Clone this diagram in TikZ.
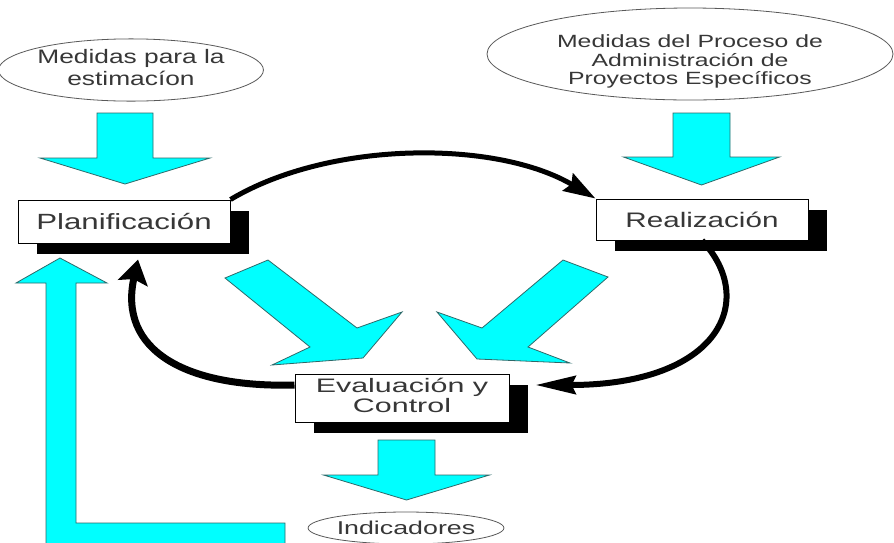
\documentclass[tikz,border=0pt]{standalone}
\usepackage{fontspec}
\setmainfont{Liberation Sans}
\usetikzlibrary{shapes.geometric,shadows,arrows.meta}
\definecolor{aqua}{RGB}{0,255,255}
\definecolor{aquaedge}{RGB}{45,105,105}
\definecolor{inkgray}{RGB}{55,55,55}
\tikzset{
  stagebox/.style={draw=black, fill=white, line width=1pt, inner sep=0pt,
    text=inkgray, general shadow={fill=black, shadow xshift=19pt, shadow yshift=-11pt}},
  measure/.style={ellipse, draw=black!65, line width=0.8pt, inner sep=0pt, text=inkgray},
  blockarrow/.style={fill=aqua, draw=aquaedge, line width=0.8pt, line join=miter},
  flow/.style={draw=black},
}
\newcommand{\widetxt}[2][1.4]{\scalebox{#1}[1]{#2}}
% cyan arrow pointing down: centre x, top y, half shaft, head base y, half head, tip y
\newcommand{\downblock}[6]{%
  \draw[blockarrow] (#1-#3,#2) -- (#1+#3,#2) -- (#1+#3,#4) -- (#1+#5,#4)
    -- (#1,#6) -- (#1-#5,#4) -- (#1-#3,#4) -- cycle;
}

\begin{document}
\begin{tikzpicture}[x=1pt, y=-1pt]
\useasboundingbox[fill=white] (0,0) rectangle (894,542);
\clip (0,0) rectangle (894,542);

% measures feeding the stages
\node[measure, minimum width=242pt, minimum height=53pt,
  font=\fontsize{19.5}{22}\selectfont] (estim) at (131,70)
  {\widetxt[1.35]{\begin{tabular}{@{}c@{}}Medidas para la\\estimacíon\end{tabular}}};
\node[measure, minimum width=406pt, minimum height=92pt,
  font=\fontsize{17.7}{18.5}\selectfont] (admin) at (690,54)
  {\raisebox{-13pt}[0pt][0pt]{\widetxt{\begin{tabular}{@{}c@{}}Medidas del Proceso de\\Administración de\\Proyectos Específicos\end{tabular}}}};

\downblock{125}{113}{28}{158}{85}{184}
\downblock{701.5}{113}{28.5}{157}{78}{185}

% stages
\node[stagebox, minimum width=212pt, minimum height=43pt,
  font=\fontsize{22}{26}\selectfont] (plan) at (124,221.5) {\widetxt[1.42]{Planificación}};
\node[stagebox, minimum width=212pt, minimum height=41pt,
  font=\fontsize{21}{25}\selectfont] (real) at (702,219.5) {\widetxt[1.41]{Realización}};
\node[stagebox, minimum width=214pt, minimum height=48pt,
  font=\fontsize{19.5}{20}\selectfont] (eval) at (402,398)
  {\widetxt[1.56]{\begin{tabular}{@{}c@{}}Evaluación y\\Control\end{tabular}}};

% diagonal arrows into the evaluation
\draw[blockarrow] (225,278) -- (268,260) -- (357,328) -- (402,312) -- (363,358)
  -- (272,365) -- (310,347) -- cycle;
\draw[blockarrow] (608,277) -- (563,260) -- (482,328) -- (437,312) -- (477,359)
  -- (570,363) -- (528,347) -- cycle;

% output
\downblock{406.5}{440}{28.5}{475}{83}{500}
\node[measure, minimum width=187pt, minimum height=32pt,
  font=\fontsize{18.6}{20}\selectfont] (indic) at (406,528) {\widetxt[1.44]{Indicadores}};

% feedback to planning
\draw[blockarrow] (60,258) -- (107,283) -- (76,283) -- (76,523) -- (285,523)
  -- (285,550) -- (46,550) -- (46,283) -- (16,283) -- cycle;

% cycle
\draw[flow, line width=5pt, -{Stealth[length=32pt, width=20pt, inset=4pt]}]
  (plan.north east) .. controls (330,140) and (497,140) .. (real.north west);
\draw[flow, line width=6pt, -{Stealth[length=40pt, width=18pt, inset=4pt]}]
  (real.south) .. controls (758,300) and (720,385) .. ([shift={(26,-13)}]eval.east);
\draw[flow, line width=7pt, -{Stealth[length=24pt, width=30pt, inset=4pt]}]
  ([shift={(0,-13)}]eval.west) .. controls (185,388) and (118,350) .. ([shift={(14,16)}]plan.south);
\end{tikzpicture}
\end{document}
